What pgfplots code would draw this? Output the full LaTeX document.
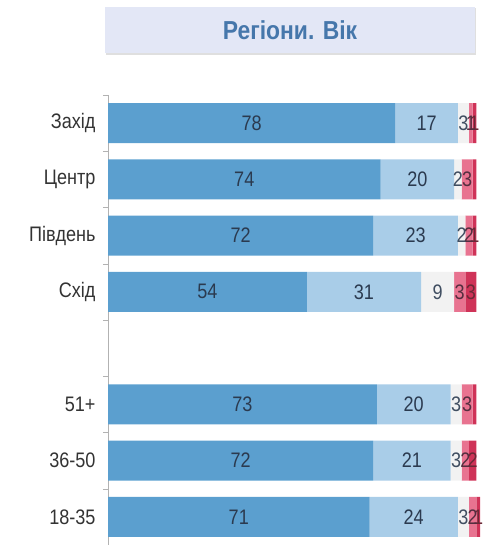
\documentclass[border=0pt]{standalone}
\usepackage{fontspec}
\setmainfont{Liberation Sans}[FakeStretch=0.86]
\newfontfamily\titlefont{Liberation Sans}[FakeStretch=0.88]
\usepackage{pgfplots}
\usepackage{pgfplotstable}
\pgfplotsset{compat=1.18}
\definecolor{c1}{HTML}{5B9FCF}
\definecolor{c2}{HTML}{A9CDE8}
\definecolor{c3}{HTML}{F2F2F2}
\definecolor{c4}{HTML}{E87390}
\definecolor{c5}{HTML}{CF3358}
\definecolor{numtext}{HTML}{2B3A4F}
\definecolor{titlebg}{HTML}{E3E7F6}
\definecolor{titleblue}{HTML}{4677AB}
\pgfplotstableread{
y a b c d e la lb lc ld le
0 78 17 3 1 1 78 17 3 1 1
1 74 20 2 3 1 74 20 2 3 {}
2 72 23 2 2 1 72 23 2 2 1
3 54 31 9 3 3 54 31 9 3 3
5 73 20 3 3 1 73 20 3 3 {}
6 72 21 3 2 2 72 21 3 2 2
7 71 24 3 2 1 71 24 3 2 1
}\datatable
\pgfplotsset{
  seg/.style n args={2}{
    fill=#1, draw=none,
    nodes near coords,
    point meta=explicit symbolic,
    every node near coord/.append style={anchor=center,
      font=\fontsize{21}{21}\selectfont, text=#2, inner sep=0pt},
  }
}
\begin{document}
\begin{tikzpicture}[x=1pt,y=1pt]
\useasboundingbox (-108,0) rectangle (378,545);
\begin{axis}[
  at={(0,0)}, anchor=south west,
  scale only axis, width=372pt, height=450pt,
  xbar stacked, bar width=0.71,
  y dir=reverse, ymin=-0.5, ymax=7.5,
  xmin=0, xmax=101,
  axis x line=none, axis y line*=left,
  ytick={0,1,2,3,5,6,7},
  yticklabels={Захід,Центр,Південь,Схід,51+,36-50,18-35},
  major tick length=0pt,
  minor ytick={-0.5,0.5,...,7.5},
  minor tick length=5pt,
  tick align=outside,
  y axis line style={gray!60},
  every minor tick/.style={gray!60, thin},
  yticklabel style={font=\fontsize{21}{21}\selectfont, text=black!80, xshift=-9pt},
  clip=false,
]
\addplot[seg={c1}{numtext}] table[x=a, y=y, meta=la] {\datatable};
\addplot[seg={c2}{numtext}] table[x=b, y=y, meta=lb] {\datatable};
\addplot[seg={c3}{numtext!90}] table[x=c, y=y, meta=lc] {\datatable};
\addplot[seg={c4}{numtext!80!red}] table[x=d, y=y, meta=ld] {\datatable};
\addplot[seg={c5}{numtext!70!red}] table[x=e, y=y, meta=le] {\datatable};
\end{axis}
\fill[gray!25] (-2,490) rectangle (368,537);
\fill[titlebg] (-3,492) rectangle (367,538);
\node[font=\titlefont\bfseries\fontsize{26}{26}\selectfont, text=titleblue] at (182,515) {Регіони. Вік};
\end{tikzpicture}
\end{document}
